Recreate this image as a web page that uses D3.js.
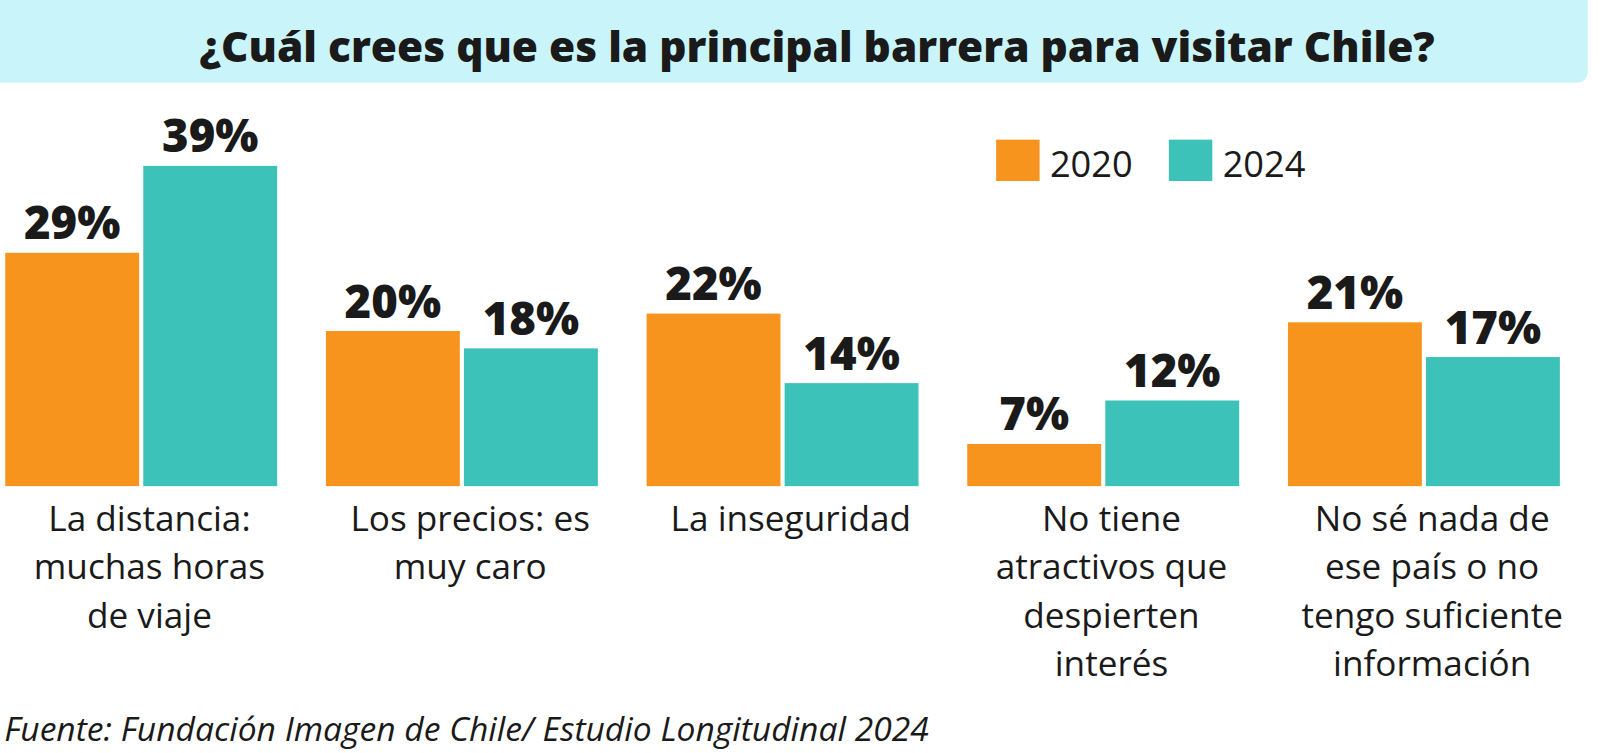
<!DOCTYPE html>
<html>
<head>
<meta charset="utf-8">
<script src="https://cdn.jsdelivr.net/npm/d3@7"></script>
<style>
  body { margin: 0; background: #fff; overflow: hidden; }
  text { font-family: "Open Sans", "Noto Sans", sans-serif; fill: #1a1a1a; }
</style>
</head>
<body>
<div class="chart"></div>
<script>
var categories = [
  ["La distancia:", "muchas horas", "de viaje"],
  ["Los precios: es", "muy caro"],
  ["La inseguridad"],
  ["No tiene", "atractivos que", "despierten", "interés"],
  ["No sé nada de", "ese país o no", "tengo suficiente", "información"]
];
var years = ["2020", "2024"];
var values2020 = [29, 20, 22, 7, 21];
var values2024 = [39, 18, 14, 12, 17];
var colors = ["#f7941d", "#3cc2b8"];

var svgWidth = 1622, svgHeight = 753;
var baseline = 470;

var svg = d3.select(".chart").append("svg")
  .attr("width", svgWidth)
  .attr("height", svgHeight)
  .attr("viewBox", "0 0 1568 728")
  .style("display", "block");

// Title banner
svg.append("rect")
  .attr("x", -10).attr("y", -10)
  .attr("width", 1545).attr("height", 90)
  .attr("rx", 10)
  .attr("fill", "#c9f5fa");

svg.append("text")
  .attr("x", 790).attr("y", 60)
  .attr("text-anchor", "middle")
  .attr("font-size", 41)
  .attr("font-weight", "800")
  .text("¿Cuál crees que es la principal barrera para visitar Chile?");

var x0 = d3.scaleBand()
  .domain(d3.range(categories.length))
  .range([5, 1508])
  .paddingInner(0.152);

var x1 = d3.scaleBand()
  .domain(years)
  .range([0, x0.bandwidth()])
  .paddingInner(0.03);

var y = d3.scaleLinear()
  .domain([0, 40])
  .range([488, 152]);

var rows = [];
categories.forEach(function(c, i) {
  rows.push({ cat: i, year: "2020", value: values2020[i] });
  rows.push({ cat: i, year: "2024", value: values2024[i] });
});

var g = svg.append("g");

g.selectAll("rect.bar")
  .data(rows)
  .enter()
  .append("rect")
  .attr("class", "bar")
  .attr("x", d => x0(d.cat) + x1(d.year))
  .attr("y", d => y(d.value))
  .attr("width", x1.bandwidth())
  .attr("height", d => baseline - y(d.value))
  .attr("fill", d => colors[years.indexOf(d.year)]);

g.selectAll("text.val")
  .data(rows)
  .enter()
  .append("text")
  .attr("class", "val")
  .attr("x", d => x0(d.cat) + x1(d.year) + x1.bandwidth() / 2)
  .attr("y", d => y(d.value) - 13)
  .attr("text-anchor", "middle")
  .attr("font-size", 44)
  .attr("font-weight", "800")
  .text(d => d.value + "%");

// Category labels
var catText = g.selectAll("text.cat")
  .data(categories)
  .enter()
  .append("text")
  .attr("class", "cat")
  .attr("text-anchor", "middle")
  .attr("font-size", 34)
  .attr("x", (d, i) => x0(i) + x0.bandwidth() / 2 + 8)
  .attr("y", 513);

catText.selectAll("tspan")
  .data(d => d)
  .enter()
  .append("tspan")
  .attr("x", function() { return this.parentNode.getAttribute("x"); })
  .attr("dy", (d, i) => i === 0 ? 0 : 47)
  .text(d => d);

// Legend
var legend = svg.append("g").attr("transform", "translate(963, 135)");
years.forEach(function(yr, i) {
  legend.append("rect")
    .attr("x", i * 167).attr("y", 0)
    .attr("width", 42).attr("height", 40)
    .attr("fill", colors[i]);
  legend.append("text")
    .attr("x", i * 167 + 52).attr("y", 36)
    .attr("font-size", 35)
    .text(yr);
});

// Source
svg.append("text")
  .attr("x", 4).attr("y", 716)
  .attr("font-size", 32.5)
  .attr("font-style", "italic")
  .text("Fuente: Fundación Imagen de Chile/ Estudio Longitudinal 2024");
</script>
</body>
</html>
